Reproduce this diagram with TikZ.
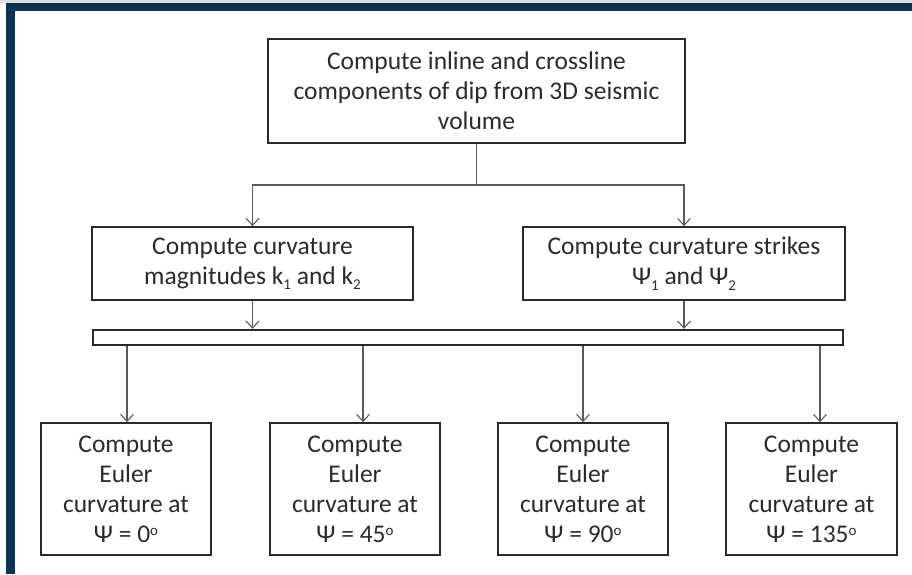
\documentclass[tikz,border=0pt]{standalone}
\usepackage{fontspec}
\setmainfont{Carlito}
\usetikzlibrary{arrows.meta}
\definecolor{frameblue}{HTML}{0B3452}
\definecolor{txt}{HTML}{2B2B2B}
\definecolor{edge}{HTML}{2A2A2A}
\definecolor{conn}{HTML}{5A5A5A}
\newcommand{\sbs}[1]{\raisebox{-0.45ex}{\fontsize{15}{15}\selectfont #1}}
\newcommand{\dgr}{\raisebox{0.55ex}{\fontsize{15}{15}\selectfont o}}
\tikzset{
  box/.style={draw=edge, line width=1.8pt, fill=white, text=txt, align=center, inner sep=0pt,
    font=\fontsize{25.5}{30}\selectfont},
  arr/.style={draw=conn, line width=1.1pt, -{Straight Barb[length=7pt,width=13pt,line width=1.1pt]}},
  ln/.style={draw=conn, line width=1.1pt}
}
\begin{document}
\begin{tikzpicture}[x=1pt,y=-1pt]
\useasboundingbox (0,0) rectangle (912,574);
\fill[white] (0,0) rectangle (912,574);
\fill[black!12] (0,0) rectangle (912,3);
\fill[frameblue] (6,3) rectangle (912,11);
\fill[frameblue] (6,3) rectangle (15,574);

\node[box, minimum width=417pt, minimum height=104pt] (top) at (476.5,91)
  {Compute inline and crossline\\components of dip from 3D seismic\\volume};
\node[box, minimum width=321pt, minimum height=73pt] (ml) at (252.5,263.5)
  {Compute curvature\\magnitudes k\sbs{1} and k\sbs{2}};
\node[box, minimum width=322pt, minimum height=73pt] (mr) at (684,263.5)
  {Compute curvature strikes\\Ψ\sbs{1} and Ψ\sbs{2}};
\node[box, line width=2.4pt, minimum width=750pt, minimum height=15pt] (bar) at (468,337.5) {};

\node[box, minimum width=170pt, minimum height=132pt] (b1) at (126,489)
  {Compute\\Euler\\curvature at\\Ψ = 0\dgr};
\node[box, minimum width=170pt, minimum height=132pt] (b2) at (355,489)
  {Compute\\Euler\\curvature at\\Ψ = 45\dgr};
\node[box, minimum width=170pt, minimum height=132pt] (b3) at (583,489)
  {Compute\\Euler\\curvature at\\Ψ = 90\dgr};
\node[box, minimum width=171pt, minimum height=132pt] (b4) at (811.5,489)
  {Compute\\Euler\\curvature at\\Ψ = 135\dgr};

\coordinate (j) at (476.5,185);
\draw[ln] (top.south) -- (j);
\draw[arr] (j) -| (ml.north);
\draw[arr] (j) -| (mr.north);
\draw[arr] (ml.south) -- (ml.south |- bar.north);
\draw[arr] (mr.south) -- (mr.south |- bar.north);
\draw[arr] (bar.south -| 127,0) -- (b1.north -| 127,0);
\draw[arr] (bar.south -| 363,0) -- (b2.north -| 363,0);
\draw[arr] (bar.south -| 583,0) -- (b3.north -| 583,0);
\draw[arr] (bar.south -| 820,0) -- (b4.north -| 820,0);
\end{tikzpicture}
\end{document}
